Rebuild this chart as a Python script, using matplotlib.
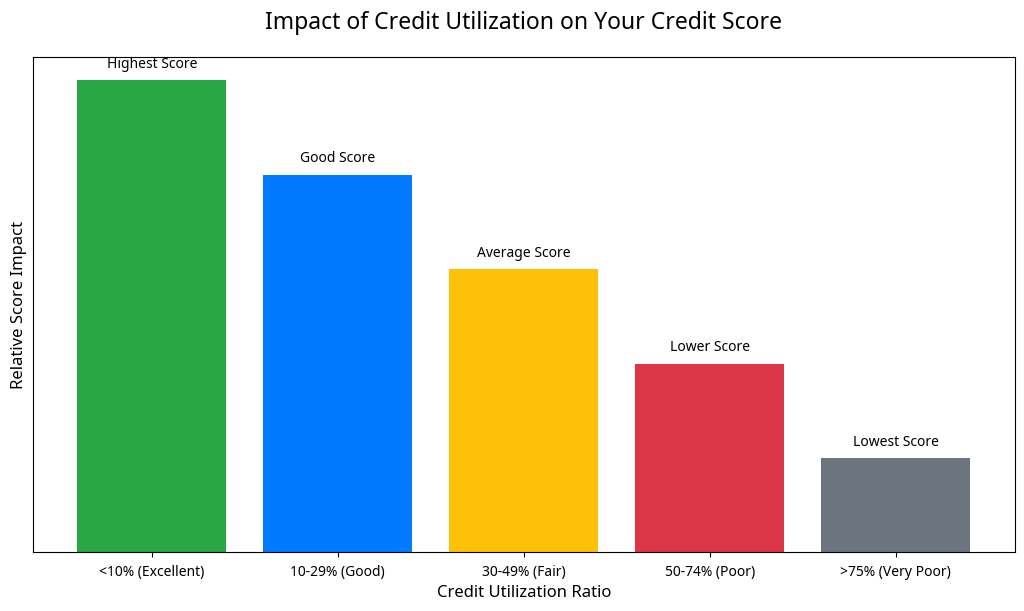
import matplotlib
matplotlib.use("Agg")
import matplotlib.pyplot as plt

plt.rcParams['font.family'] = ['Noto Sans', 'DejaVu Sans']

categories = ['<10% (Excellent)', '10-29% (Good)', '30-49% (Fair)', '50-74% (Poor)', '>75% (Very Poor)']
values = [100, 80, 60, 40, 20]
labels = ['Highest Score', 'Good Score', 'Average Score', 'Lower Score', 'Lowest Score']
colors = ['#28a745', '#007bff', '#ffc107', '#dc3545', '#6c757d']

fig, ax = plt.subplots(figsize=(10.24, 6.11), dpi=100)
fig.subplots_adjust(left=0.032, right=0.991, top=0.907, bottom=0.096)

bars = ax.bar(categories, values, color=colors, width=0.8)
for b, lab in zip(bars, labels):
    ax.annotate(lab, (b.get_x() + b.get_width() / 2, b.get_height()),
                xytext=(0, 6), textcoords='offset points',
                ha='center', va='bottom', fontsize=10)

ax.set_ylim(0, 105)
ax.set_yticks([])
ax.set_xlabel('Credit Utilization Ratio', fontsize=12, labelpad=4)
ax.set_ylabel('Relative Score Impact', fontsize=12)
ax.set_title('Impact of Credit Utilization on Your Credit Score', fontsize=16.5, pad=20)
ax.tick_params(axis='x', labelsize=10, pad=5.5)

fig.savefig('out.png', dpi=100)
